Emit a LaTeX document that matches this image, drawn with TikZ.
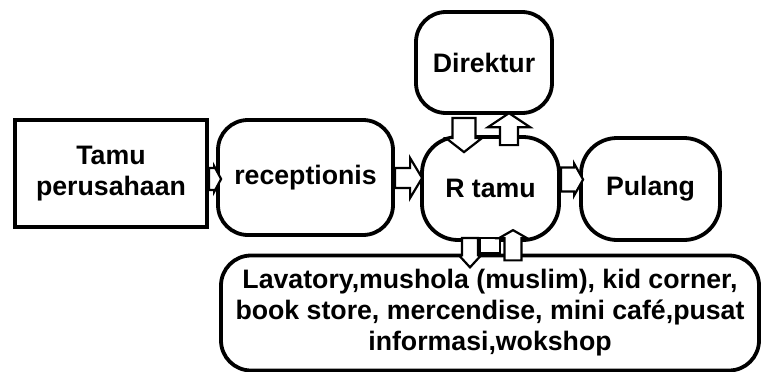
\documentclass[tikz,border=0pt]{standalone}
\usepackage{fontspec}
\setmainfont{Liberation Sans}
\usetikzlibrary{calc}
\newcommand{\blockright}[5]{%
  \draw[barrow] let \p1=(#1), \p2=(#2) in
    (\x1,\y2+#3) -- (\x2-#5,\y2+#3) -- (\x2-#5,\y2+#4) -- (\x2,\y2)
    -- (\x2-#5,\y2-#4) -- (\x2-#5,\y2-#3) -- (\x1,\y2-#3) -- cycle;}
\newcommand{\blockdown}[5]{%
  \draw[barrow] let \p1=(#1), \p2=(#2) in
    (\x2-#3,\y1) -- (\x2-#3,\y2+#5) -- (\x2-#4,\y2+#5) -- (\x2,\y2)
    -- (\x2+#4,\y2+#5) -- (\x2+#3,\y2+#5) -- (\x2+#3,\y1) -- cycle;}
\newcommand{\blockup}[5]{%
  \draw[barrow] let \p1=(#1), \p2=(#2) in
    (\x2-#3,\y1) -- (\x2-#3,\y2-#5) -- (\x2-#4,\y2-#5) -- (\x2,\y2)
    -- (\x2+#4,\y2-#5) -- (\x2+#3,\y2-#5) -- (\x2+#3,\y1) -- cycle;}
\begin{document}
\begin{tikzpicture}[x=1pt,y=-1pt,
  box/.style={draw, line width=3.8pt, rounded corners=30pt, inner sep=0pt,
    align=center, font=\fontsize{26.7}{31}\selectfont\bfseries},
  barrow/.style={draw, line width=2.2pt, fill=white, line join=miter}]
\useasboundingbox (0,0) rectangle (763,372);
\node[box, rounded corners=0pt, minimum width=192pt, minimum height=107pt] (tamu) at (111,173.5) {Tamu\\perusahaan};
\node[box, minimum width=175pt, minimum height=115pt] (recep) at (305.5,177.5) {receptionis};
\node[box, rounded corners=36pt, minimum width=137pt, minimum height=103pt] (rtamu) at (490.5,188.5) {R tamu};
\node[box, rounded corners=36pt, minimum width=139pt, minimum height=102pt] (pulang) at (650.5,189) {Pulang};
\node[box, minimum width=136pt, minimum height=101pt] (direktur) at (484,62.5) {Direktur};
\node[box, minimum width=538pt, minimum height=115pt] (fasilitas) at (490,313) {Lavatory,mushola (muslim), kid corner,\\book store, mercendise, mini café,pusat\\informasi,wokshop};
% block arrows
\blockright{tamu.east}{$(recep.west)+(5,1.5)$}{11pt}{13pt}{7pt}
\blockright{recep.east}{$(rtamu.west)+(2,-10.5)$}{10pt}{20pt}{12pt}
\blockright{rtamu.east}{$(pulang.west)+(4,-9.5)$}{12pt}{16pt}{9pt}
\blockdown{$(direktur.south)+(0,3)$}{$(rtamu.north)+(-26.5,17)$}{11.5pt}{18pt}{14pt}
\blockup{$(rtamu.north)+(0,10)$}{$(direktur.south)+(25,-1.75)$}{9pt}{21pt}{14pt}
\draw[barrow] ($(rtamu.south)+(-10.5,-3.75)$) rectangle +(20,15);
\blockdown{$(rtamu.south)+(0,-4)$}{$(fasilitas.north)+(-20,13.75)$}{8pt}{11pt}{12pt}
\blockup{$(fasilitas.north)+(0,6.75)$}{$(rtamu.south)+(22.5,-11.75)$}{8.5pt}{14pt}{8pt}
\end{tikzpicture}
\end{document}
